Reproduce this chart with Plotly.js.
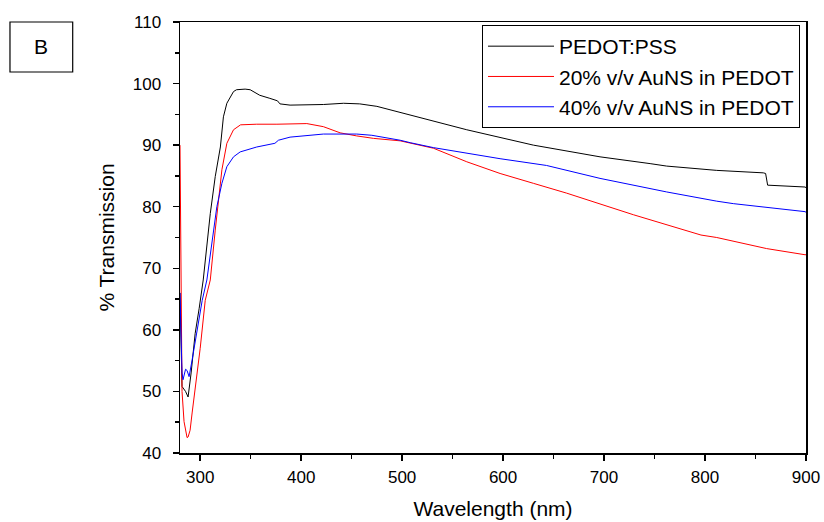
<!DOCTYPE html>
<html>
<head>
<meta charset="utf-8">
<script src="https://cdn.plot.ly/plotly-3.0.1.min.js"></script>
<style>html,body{margin:0;padding:0;background:#fff;}#chart{width:824px;height:522px;}</style>
</head>
<body>
<div id="chart"></div>
<script>
// Wavelength (nm) and % transmission
const pedotWl = [280,281,282,285.5,288,291,295,299,303,310,314.9,320,323,326.4,333,336,344.5,349.5,359,369,376.5,377.5,379,389,422,442,458,475,498,508,518,564,630,696,745.6,762,811.6,828,857.7,860,862,899,900];
const pedotT  = [66,56,50.8,50,49.1,53,59.4,63.5,68.1,78.9,84.9,89.7,94.6,96.8,98.7,99.0,99.1,99.0,98.1,97.6,97.2,97.0,96.7,96.5,96.6,96.8,96.7,96.3,95.3,94.9,94.5,92.5,90.0,88.1,87.0,86.6,85.9,85.8,85.5,85.4,83.5,83.2,83.1];

const au20Wl = [280,281,282,284,286,287,288,290,292,295,300,305,310,314.9,321.5,326.4,333,340,356,376,405.6,422,438.6,455,471.6,498,531,564,597,630,663,729,745.6,796,811.6,859,861,899,900];
const au20T  = [90,62,50,45.1,43,42.5,42.6,43.7,46.5,50.2,57,64.8,68.1,76.2,86.0,90.3,92.5,93.3,93.4,93.4,93.5,93.0,92.0,91.5,91.1,90.7,89.5,87.3,85.4,83.8,82.2,78.7,77.9,75.4,75.0,73.2,73.2,72.2,72.2];

const au40Wl = [280,281,282,283,285.5,287,289,292,296,302,306.6,311.6,316.5,321.5,326.4,333,339.6,356,374,377.5,389,422,455,470,488,498,508,531,597,643,696,745.6,762,811.6,828,899,900];
const au40T  = [66,56,53,51.9,53.6,53.4,52.4,55.1,59,64.8,68.1,74.6,80.0,83.8,86.5,88.1,88.9,89.7,90.3,90.8,91.3,91.8,91.8,91.6,91.1,90.8,90.4,89.6,87.8,86.7,84.6,82.9,82.4,80.9,80.5,79.2,79.1];

const seriesNames = ['PEDOT:PSS','20% v/v AuNS in PEDOT','40% v/v AuNS in PEDOT'];
const seriesColors = ['#000000','#ff0000','#0000ff'];
const xTitle = 'Wavelength (nm)';
const yTitle = '% Transmission';
const panelLabel = 'B';

const FONT = '"Liberation Sans", Arial, sans-serif';

const traces = [
  {x: pedotWl, y: pedotT, name: seriesNames[0], type: 'scatter', mode: 'lines', line: {color: seriesColors[0], width: 1}},
  {x: au20Wl, y: au20T, name: seriesNames[1], type: 'scatter', mode: 'lines', line: {color: seriesColors[1], width: 1}},
  {x: au40Wl, y: au40T, name: seriesNames[2], type: 'scatter', mode: 'lines', line: {color: seriesColors[2], width: 1}}
];

const layout = {
  width: 824, height: 522,
  margin: {l: 180, r: 18, t: 22, b: 69},
  paper_bgcolor: '#ffffff', plot_bgcolor: '#ffffff',
  font: {family: FONT, color: '#000000', size: 17},
  showlegend: true,
  legend: {
    x: 0.9904, xanchor: 'right', y: 0.993, yanchor: 'top',
    bordercolor: '#000000', borderwidth: 1, bgcolor: '#ffffff',
    font: {family: FONT, size: 21, color: '#000000'},
    itemwidth: 66, tracegroupgap: 0
  },
  xaxis: {
    range: [280, 900], tickmode: 'linear', tick0: 300, dtick: 100,
    ticks: 'outside', ticklen: 6, tickwidth: 1.5, tickcolor: '#000',
    showline: true, linecolor: '#000', linewidth: 1.5, mirror: true,
    showgrid: false, zeroline: false, ticklabelstandoff: 2,
    tickfont: {family: FONT, size: 17},
    minor: {ticks: 'outside', tick0: 300, dtick: 50, ticklen: 4, tickwidth: 1.5, tickcolor: '#000', showgrid: false},
    title: {text: xTitle, font: {family: FONT, size: 21}, standoff: 15}
  },
  yaxis: {
    range: [40, 110], tickmode: 'linear', tick0: 40, dtick: 10,
    ticks: 'outside', ticklen: 6, tickwidth: 1.5, tickcolor: '#000',
    showline: true, linecolor: '#000', linewidth: 1.5, mirror: true,
    showgrid: false, zeroline: false, ticklabelstandoff: 8,
    tickfont: {family: FONT, size: 17},
    minor: {ticks: 'outside', tick0: 40, dtick: 5, ticklen: 4, tickwidth: 1.5, tickcolor: '#000', showgrid: false},
    title: {text: yTitle, font: {family: FONT, size: 21}, standoff: 12}
  },
  xaxis2: {
    overlaying: 'x', side: 'top', anchor: 'y', range: [280, 900],
    tickmode: 'linear', tick0: 300, dtick: 50, ticks: 'inside', ticklen: 4, tickwidth: 1.5, tickcolor: '#000',
    showticklabels: false, showgrid: false, zeroline: false, showline: false
  },
  yaxis2: {
    overlaying: 'y', side: 'right', anchor: 'x', range: [40, 110],
    tickmode: 'linear', tick0: 40, dtick: 5, ticks: 'inside', ticklen: 4, tickwidth: 1.5, tickcolor: '#000',
    showticklabels: false, showgrid: false, zeroline: false, showline: false
  },
  shapes: [
    {type: 'rect', xref: 'paper', yref: 'paper', x0: -0.2716, x1: -0.1714, y0: 0.884, y1: 1.0,
     line: {color: '#000', width: 1.2}, fillcolor: 'rgba(0,0,0,0)'}
  ],
  annotations: [
    {text: panelLabel, xref: 'paper', yref: 'paper', x: -0.2215, y: 0.942, xanchor: 'center', yanchor: 'middle',
     showarrow: false, font: {family: FONT, size: 21, color: '#000'}}
  ]
};

Plotly.newPlot('chart', traces, layout, {staticPlot: true, displayModeBar: false});
</script>
</body>
</html>
